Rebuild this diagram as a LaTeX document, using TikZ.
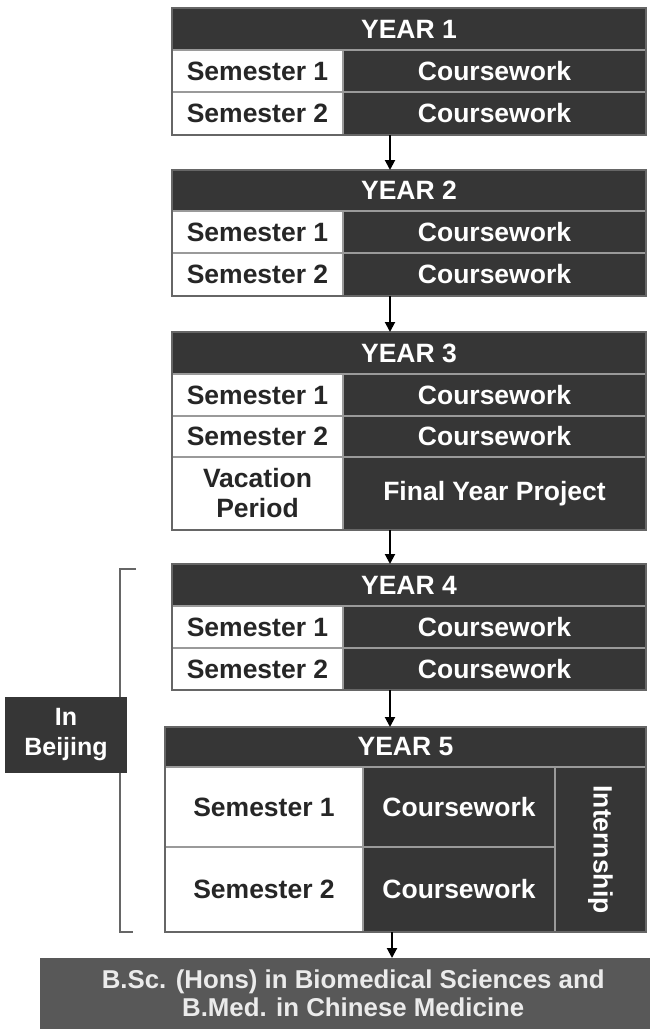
\documentclass[tikz,border=0pt]{standalone}
\usepackage{fontspec}
\setmainfont{Liberation Sans}
\usetikzlibrary{arrows.meta,calc}
\definecolor{dk}{HTML}{363636}
\definecolor{fin}{HTML}{585858}
\definecolor{sep}{HTML}{9A9A9A}
\definecolor{edge}{HTML}{666666}
\tikzset{
  txt/.style={font=\fontsize{26.5}{30}\selectfont\bfseries},
  cellbase/.style={txt, anchor=north west, inner sep=0pt, outer sep=0pt, draw=sep, line width=1.2pt, align=center},
  darkcell/.style={cellbase, fill=dk, text=white},
  whitecell/.style={cellbase, fill=white, text=black!85},
  arr/.style={-{Triangle[length=10pt,width=10pt]}, line width=2pt, black},
}
\newcommand{\cellbox}[6]{% name, style, x1, y1, x2, y2
  \node[#2, minimum width={#5-#3}, minimum height={#6-#4}] (#1) at (#3,#4)}
\begin{document}
\begin{tikzpicture}[x=1pt,y=-1pt]
\useasboundingbox (0,0) rectangle (650,1029);
% ---------- YEAR 1
\cellbox{y1h}{darkcell}{172}{8}{646}{50} {YEAR 1};
\cellbox{y1a}{whitecell}{172}{50}{343}{92} {Semester 1};
\cellbox{y1b}{darkcell}{343}{50}{646}{92} {Coursework};
\cellbox{y1c}{whitecell}{172}{92}{343}{135} {Semester 2};
\cellbox{y1d}{darkcell}{343}{92}{646}{135} {Coursework};
\draw[edge, line width=1.5pt] (y1h.north west) rectangle (y1d.south east);
% ---------- YEAR 2
\cellbox{y2h}{darkcell}{172}{170}{646}{211} {YEAR 2};
\cellbox{y2a}{whitecell}{172}{211}{343}{253} {Semester 1};
\cellbox{y2b}{darkcell}{343}{211}{646}{253} {Coursework};
\cellbox{y2c}{whitecell}{172}{253}{343}{296} {Semester 2};
\cellbox{y2d}{darkcell}{343}{253}{646}{296} {Coursework};
\draw[edge, line width=1.5pt] (y2h.north west) rectangle (y2d.south east);
% ---------- YEAR 3
\cellbox{y3h}{darkcell}{172}{332}{646}{374} {YEAR 3};
\cellbox{y3a}{whitecell}{172}{374}{343}{416} {Semester 1};
\cellbox{y3b}{darkcell}{343}{374}{646}{416} {Coursework};
\cellbox{y3c}{whitecell}{172}{416}{343}{457} {Semester 2};
\cellbox{y3d}{darkcell}{343}{416}{646}{457} {Coursework};
\cellbox{y3e}{whitecell}{172}{457}{343}{530} {Vacation\\Period};
\cellbox{y3f}{darkcell}{343}{457}{646}{530} {Final Year Project};
\draw[edge, line width=1.5pt] (y3h.north west) rectangle (y3f.south east);
% ---------- YEAR 4
\cellbox{y4h}{darkcell}{172}{564}{646}{606} {YEAR 4};
\cellbox{y4a}{whitecell}{172}{606}{343}{648} {Semester 1};
\cellbox{y4b}{darkcell}{343}{606}{646}{648} {Coursework};
\cellbox{y4c}{whitecell}{172}{648}{343}{690} {Semester 2};
\cellbox{y4d}{darkcell}{343}{648}{646}{690} {Coursework};
\draw[edge, line width=1.5pt] (y4h.north west) rectangle (y4d.south east);
% ---------- YEAR 5
\cellbox{y5h}{darkcell}{165}{727}{646}{767} {YEAR 5};
\cellbox{y5a}{whitecell}{165}{767}{363}{847} {Semester 1};
\cellbox{y5b}{darkcell}{363}{767}{555}{847} {Coursework};
\cellbox{y5c}{whitecell}{165}{847}{363}{932} {Semester 2};
\cellbox{y5d}{darkcell}{363}{847}{555}{932} {Coursework};
\node[darkcell, minimum width=91, minimum height=165] (y5i) at (555,767) {};
\node[txt, text=white, rotate=-90] (y5it) at (y5i.center) {Internship};
\draw[edge, line width=1.5pt] (y5h.north west) rectangle (y5i.south east);
% ---------- final
\node[anchor=north west, inner sep=0pt, fill=fin, minimum width=610, minimum height=71] (fin) at (40,958) {};
\node[text=white!92!black, align=center, inner sep=0pt, font=\fontsize{25.8}{28}\selectfont\bfseries] (fint) at ([xshift=8pt]fin.center) {B.Sc. (Hons) in Biomedical Sciences and\\B.Med. in Chinese Medicine};
% ---------- In Beijing
\node[darkcell, draw=none, minimum width=122, minimum height=76, font=\fontsize{25}{30}\selectfont\bfseries] (bj) at (5,697) {In\\Beijing};
\coordinate (brt) at (136,569);
\coordinate (brb) at (133,932);
\draw[edge, line width=1.6pt] (brt) -- (120,569) -- (bj.north -| 120,0);
\draw[edge, line width=1.6pt] (bj.south -| 120,0) -- (120,932) -- (brb);
% ---------- arrows
\coordinate (ax) at (390,0);
\coordinate (ax5) at (392,0);
\draw[arr] (y1d.south -| ax) -- (y2h.north -| ax);
\draw[arr] (y2d.south -| ax) -- (y3h.north -| ax);
\draw[arr] (y3f.south -| ax) -- (y4h.north -| ax);
\draw[arr] (y4d.south -| ax) -- (y5h.north -| ax);
\draw[arr] (y5d.south -| ax5) -- (fin.north -| ax5);
\end{tikzpicture}
\end{document}
